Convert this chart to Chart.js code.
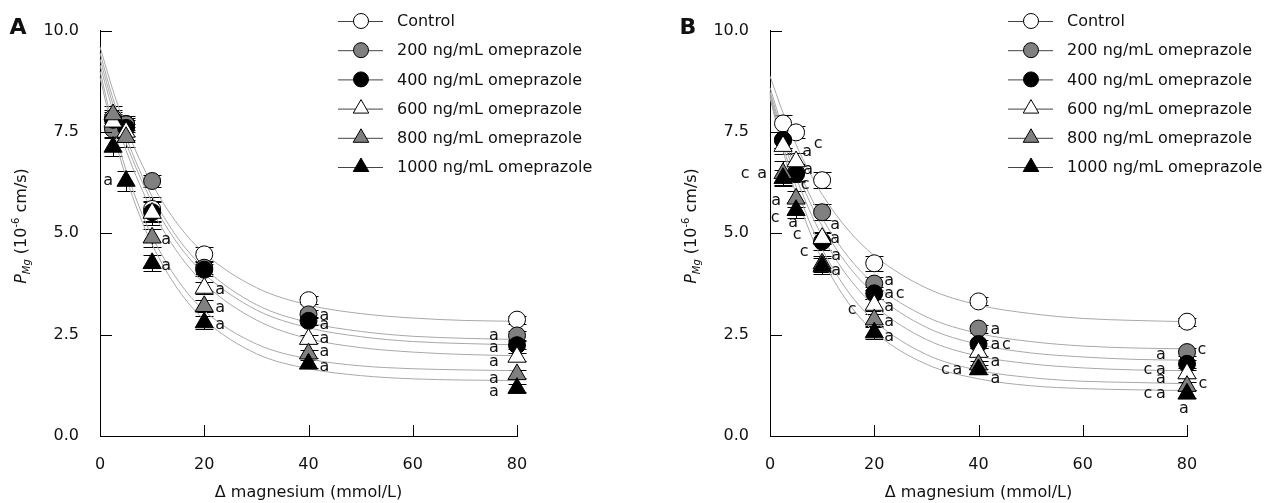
<!DOCTYPE html>
<html><head><meta charset="utf-8">
<script src="https://cdn.jsdelivr.net/npm/chart.js@4.4.0/dist/chart.umd.min.js"></script>
<style>
html,body{margin:0;padding:0;background:#fff;overflow:hidden;width:1266px;height:503px;}
.p{position:absolute;top:0;width:600px;height:503px;}
#wa{left:0}#wb{left:670px}
</style></head><body>
<div class="p" id="wa"><canvas id="ca" width="600" height="503"></canvas></div>
<div class="p" id="wb"><canvas id="cb" width="600" height="503"></canvas></div>
<script>
// ---- categories / ticks ----
const xValues = [2.5, 5, 10, 20, 40, 80];
const xTicks = [0, 20, 40, 60, 80];
const yTicks = [0, 2.5, 5, 7.5, 10];
const seriesNames = ['Control', '200 ng/mL omeprazole', '400 ng/mL omeprazole',
  '600 ng/mL omeprazole', '800 ng/mL omeprazole', '1000 ng/mL omeprazole'];
const curveX = [0, 2.5, 5, 7.5, 10, 15, 20, 30, 40, 50, 60, 70, 80];

// ---- Panel A values ----
const aControl = [7.85, 7.70, 5.60, 4.48, 3.35, 2.87];
const a200     = [7.57, 7.69, 6.29, 4.15, 3.00, 2.48];
const a400     = [7.80, 7.60, 5.52, 4.10, 2.84, 2.24];
const a600     = [7.75, 7.50, 5.50, 3.65, 2.39, 1.95];
const a800     = [7.93, 7.37, 4.89, 3.20, 2.03, 1.52];
const a1000    = [7.13, 6.29, 4.26, 2.80, 1.78, 1.18];
const aErrControl = [0.20, 0.20, 0.30, 0.17, 0.10, 0.10];
const aErr200     = [0.20, 0.15, 0.15, 0.15, 0.10, 0.10];
const aErr400     = [0.20, 0.20, 0.25, 0.15, 0.10, 0.10];
const aErr600     = [0.20, 0.20, 0.30, 0.15, 0.10, 0.10];
const aErr800     = [0.21, 0.25, 0.22, 0.15, 0.10, 0.10];
const aErr1000    = [0.22, 0.24, 0.20, 0.17, 0.10, 0.10];
// fitted curves
const aFitControl = [9.60, 8.52, 7.61, 6.85, 6.21, 5.21, 4.51, 3.66, 3.23, 3.02, 2.91, 2.85, 2.83];
const aFit200     = [9.45, 8.32, 7.38, 6.58, 5.91, 4.87, 4.14, 3.24, 2.80, 2.58, 2.46, 2.41, 2.38];
const aFit400     = [9.30, 8.17, 7.23, 6.44, 5.77, 4.73, 4.00, 3.11, 2.67, 2.45, 2.33, 2.28, 2.25];
const aFit600     = [9.15, 8.01, 7.05, 6.24, 5.56, 4.51, 3.76, 2.86, 2.40, 2.18, 2.07, 2.01, 1.98];
const aFit800     = [9.00, 7.66, 6.56, 5.66, 4.92, 3.83, 3.09, 2.27, 1.90, 1.73, 1.66, 1.63, 1.61];
const aFit1000    = [8.85, 7.49, 6.38, 5.47, 4.72, 3.61, 2.87, 2.03, 1.66, 1.49, 1.41, 1.38, 1.37];

// ---- Panel B values ----
const bControl = [7.71, 7.49, 6.31, 4.26, 3.32, 2.82];
const b200     = [7.30, 6.50, 5.52, 3.76, 2.65, 2.07];
const b400     = [7.30, 6.46, 4.80, 3.52, 2.27, 1.78];
const b600     = [7.15, 6.77, 4.88, 3.23, 2.07, 1.54];
const b800     = [6.48, 5.85, 4.25, 2.87, 1.76, 1.23];
const b1000    = [6.36, 5.57, 4.19, 2.55, 1.64, 1.04];
const bErrControl = [0.22, 0.15, 0.20, 0.18, 0.10, 0.10];
const bErr200     = [0.20, 0.20, 0.20, 0.15, 0.10, 0.10];
const bErr400     = [0.20, 0.20, 0.20, 0.15, 0.10, 0.10];
const bErr600     = [0.20, 0.20, 0.15, 0.15, 0.10, 0.10];
const bErr800     = [0.30, 0.20, 0.20, 0.15, 0.10, 0.10];
const bErr1000    = [0.20, 0.20, 0.20, 0.15, 0.10, 0.10];
const bFitControl = [8.88, 7.97, 7.19, 6.53, 5.96, 5.08, 4.45, 3.65, 3.23, 3.02, 2.90, 2.85, 2.82];
const bFit200     = [8.60, 7.57, 6.71, 5.98, 5.37, 4.42, 3.75, 2.94, 2.53, 2.33, 2.22, 2.17, 2.15];
const bFit400     = [8.50, 7.44, 6.56, 5.81, 5.18, 4.20, 3.52, 2.68, 2.26, 2.05, 1.95, 1.89, 1.87];
const bFit600     = [8.45, 7.32, 6.38, 5.59, 4.93, 3.92, 3.22, 2.38, 1.97, 1.78, 1.68, 1.63, 1.61];
const bFit800     = [8.40, 7.17, 6.15, 5.31, 4.61, 3.56, 2.84, 2.01, 1.62, 1.44, 1.35, 1.32, 1.29];
const bFit1000    = [8.35, 7.04, 5.96, 5.08, 4.36, 3.29, 2.57, 1.77, 1.41, 1.24, 1.17, 1.14, 1.12];

// significance letters: [series, point, text]
const aLetters = [
  [5,1,'a'], [4,2,'a'], [5,2,'a'], [3,3,'a'], [4,3,'a'], [5,3,'a'],
  [1,4,'a'], [2,4,'a'], [3,4,'a'], [4,4,'a'], [5,4,'a'],
  [1,5,'a'], [2,5,'a'], [3,5,'a'], [4,5,'a'], [5,5,'a']
];
const bLetters = [
  [4,0,'c'], [4,0,'a'], [5,0,'a'], [5,0,'c'],
  [3,1,'a'], [3,1,'c'], [1,1,'a'], [2,1,'c'], [5,1,'a'], [5,1,'c'],
  [2,2,'c'], [1,2,'a'], [3,2,'a'], [4,2,'a'], [5,2,'a'],
  [1,3,'a'], [2,3,'a'], [2,3,'c'], [3,3,'a'], [4,3,'a'], [5,3,'a'], [3,3,'c'],
  [1,4,'a'], [2,4,'a'], [2,4,'c'], [3,4,'a'], [5,4,'a'], [4,4,'c'], [4,4,'a'],
  [1,5,'c'], [1,5,'a'], [2,5,'c'], [2,5,'a'], [3,5,'a'], [3,5,'c'], [4,5,'c'], [4,5,'a'], [5,5,'a']
];
// layout of letters (pixel offsets from their point), same order as above
const aLetterOffsets = [
  [-18,0], [14,2], [14,3], [16,2], [16,2], [16,2],
  [16,1], [16,4], [16,0], [16,-2], [16,3],
  [-23,0], [-23,3], [-23,5], [-23,4], [-23,4]
];
const bLetterOffsets = [
  [-38,1], [-21,1], [-7,23], [-8,40],
  [11,-10], [22,-18], [12,-3], [9,11], [-3,13], [1,25],
  [-18,10], [13,13], [13,1], [14,-8], [14,5],
  [15,-3], [15,1], [26,1], [15,2], [15,2], [15,4], [-22,5],
  [17,1], [17,1], [28,1], [17,10], [17,9], [-33,5], [-21,5],
  [15,-2], [-26,3], [-39,6], [-26,6], [-26,5], [16,10], [-39,8], [-26,8], [-3,15]
];

const styles = [
  {ps:'circle', fill:'#ffffff'}, {ps:'circle', fill:'#808080'}, {ps:'circle', fill:'#000000'},
  {ps:'triangle', fill:'#ffffff'}, {ps:'triangle', fill:'#808080'}, {ps:'triangle', fill:'#000000'}
];
const FONT = "'DejaVu Sans', Verdana, sans-serif";

function decor(letter, pts, errs, letters, offsets) {
  return {
    id: 'decor' + letter,
    beforeDatasetsDraw(chart) {
      const {ctx, scales:{x, y}} = chart;
      ctx.save();
      ctx.strokeStyle = '#000'; ctx.lineWidth = 1;
      pts.forEach((ser, i) => ser.forEach((v, j) => {
        const e = errs[i][j];
        const px = Math.round(x.getPixelForValue(xValues[j])) + 0.5;
        const yt = Math.round(y.getPixelForValue(v + e)) + 0.5;
        const yb = Math.round(y.getPixelForValue(v - e)) + 0.5;
        ctx.beginPath();
        ctx.moveTo(px, yt); ctx.lineTo(px, yb);
        ctx.moveTo(px - 9, yt); ctx.lineTo(px + 9, yt);
        ctx.moveTo(px - 9, yb); ctx.lineTo(px + 9, yb);
        ctx.stroke();
      }));
      ctx.restore();
    },
    afterDraw(chart) {
      const {ctx, chartArea:ca, scales:{x, y}} = chart;
      ctx.save();
      ctx.strokeStyle = '#000'; ctx.lineWidth = 1;
      // inward tick marks
      ctx.beginPath();
      y.ticks.forEach(t => {
        if (t.value === 0) return;
        const py = Math.round(y.getPixelForValue(t.value)) + 0.5;
        ctx.moveTo(ca.left, py); ctx.lineTo(ca.left + 12, py);
      });
      x.ticks.forEach(t => {
        if (t.value === 0) return;
        const px = Math.round(x.getPixelForValue(t.value)) + 0.5;
        ctx.moveTo(px, ca.bottom); ctx.lineTo(px, ca.bottom - 11);
      });
      ctx.stroke();
      // letters
      ctx.fillStyle = '#111';
      ctx.font = '16px ' + FONT;
      ctx.textAlign = 'center'; ctx.textBaseline = 'middle';
      letters.forEach((l, k) => {
        const [si, pi, txt] = l;
        const px = x.getPixelForValue(xValues[pi]);
        const py = y.getPixelForValue(pts[si][pi]);
        ctx.fillText(txt, px + offsets[k][0], py + offsets[k][1]);
      });
      // legend
      seriesNames.forEach((name, i) => {
        const ly = 21 + i * 29.2;
        ctx.strokeStyle = '#444';
        ctx.beginPath(); ctx.moveTo(338, ly + 0.5); ctx.lineTo(383, ly + 0.5); ctx.stroke();
        ctx.fillStyle = styles[i].fill; ctx.strokeStyle = '#000';
        Chart.helpers.drawPoint(ctx, {pointStyle: styles[i].ps, radius: styles[i].ps === 'circle' ? 7.5 : 9, borderWidth: 1, rotation: 0}, 361, ly);
        ctx.fillStyle = '#111'; ctx.textAlign = 'left';
        ctx.fillText(name, 397, ly + 1);
      });
      // panel letter
      ctx.font = 'bold 22px ' + FONT; ctx.textAlign = 'center';
      ctx.fillText(letter, 18, 28);
      // x title
      ctx.font = '16px ' + FONT;
      ctx.fillText('\u0394 magnesium (mmol/L)', (ca.left + ca.right) / 2, 493);
      // y title
      ctx.translate(20, 226); ctx.rotate(-Math.PI / 2);
      const parts = [
        ['P', 'italic 16px ' + FONT, 0],
        ['Mg', 'italic 10px ' + FONT, 4],
        [' (10', '16px ' + FONT, 0],
        ['-6', '10px ' + FONT, -7],
        [' cm/s)', '16px ' + FONT, 0]
      ];
      let tot = 0;
      parts.forEach(p => { ctx.font = p[1]; tot += ctx.measureText(p[0]).width; });
      let cx = -tot / 2;
      ctx.textAlign = 'left'; ctx.textBaseline = 'alphabetic';
      parts.forEach(p => { ctx.font = p[1]; ctx.fillText(p[0], cx, 6 + p[2]); cx += ctx.measureText(p[0]).width; });
      ctx.restore();
    }
  };
}

function build(id, letter, pts, errs, fits, letters, offsets) {
  const datasets = [];
  fits.forEach((f, i) => datasets.push({
    data: curveX.map((xv, k) => ({x: xv, y: f[k]})),
    showLine: true, borderColor: '#a8a8a8', borderWidth: 1, pointRadius: 0,
    cubicInterpolationMode: 'monotone', fill: false, order: 20 + i, clip: false
  }));
  pts.forEach((p, i) => datasets.push({
    label: seriesNames[i],
    data: xValues.map((xv, k) => ({x: xv, y: p[k]})),
    pointStyle: styles[i].ps, pointRadius: styles[i].ps === 'circle' ? 8.5 : 10.5,
    backgroundColor: styles[i].fill, borderColor: '#000', borderWidth: 1,
    showLine: false, order: 6 - i, clip: false
  }));
  new Chart(document.getElementById(id), {
    type: 'scatter',
    data: {datasets},
    options: {
      responsive: false, animation: false, devicePixelRatio: 1,
      layout: {padding: {left: 0, right: 83, top: 21, bottom: 0}},
      plugins: {legend: {display: false}, tooltip: {enabled: false}},
      scales: {
        x: {
          type: 'linear', min: 0, max: 80,
          afterBuildTicks: s => { s.ticks = xTicks.map(v => ({value: v})); },
          grid: {display: false, drawTicks: false},
          border: {display: true, color: '#000', width: 1},
          ticks: {padding: 19, color: '#111', font: {size: 16, family: FONT}},
          afterFit: s => { s.height = 67; }
        },
        y: {
          type: 'linear', min: 0, max: 10,
          afterBuildTicks: s => { s.ticks = yTicks.map(v => ({value: v})); },
          grid: {display: false, drawTicks: false},
          border: {display: true, color: '#000', width: 1},
          ticks: {padding: 21, color: '#111', font: {size: 16, family: FONT}, callback: v => v.toFixed(1)},
          afterFit: s => { s.width = 100; }
        }
      }
    },
    plugins: [decor(letter, pts, errs, letters, offsets)]
  });
}

build('ca', 'A',
  [aControl, a200, a400, a600, a800, a1000],
  [aErrControl, aErr200, aErr400, aErr600, aErr800, aErr1000],
  [aFitControl, aFit200, aFit400, aFit600, aFit800, aFit1000],
  aLetters, aLetterOffsets);
build('cb', 'B',
  [bControl, b200, b400, b600, b800, b1000],
  [bErrControl, bErr200, bErr400, bErr600, bErr800, bErr1000],
  [bFitControl, bFit200, bFit400, bFit600, bFit800, bFit1000],
  bLetters, bLetterOffsets);
</script>
</body></html>
